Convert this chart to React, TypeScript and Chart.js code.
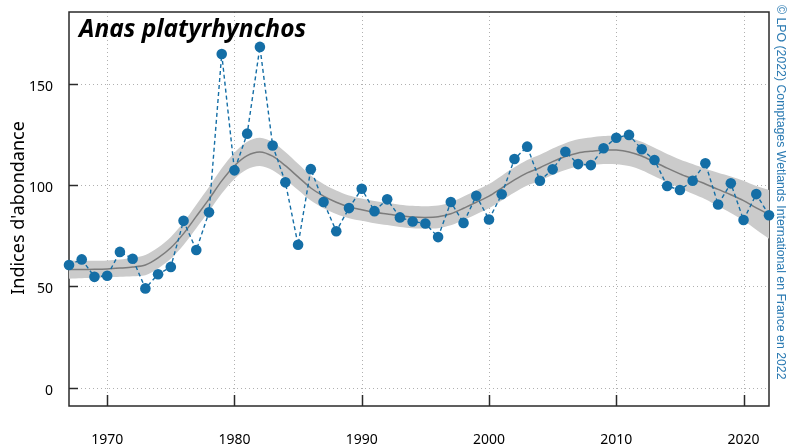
import React, { useEffect, useRef } from "react";
import { Chart, registerables } from "chart.js";
Chart.register(...registerables);

const years = [
  1967, 1968, 1969, 1970, 1971, 1972, 1973, 1974, 1975, 1976, 1977, 1978, 1979, 1980,
  1981, 1982, 1983, 1984, 1985, 1986, 1987, 1988, 1989, 1990, 1991, 1992, 1993, 1994,
  1995, 1996, 1997, 1998, 1999, 2000, 2001, 2002, 2003, 2004, 2005, 2006, 2007, 2008,
  2009, 2010, 2011, 2012, 2013, 2014, 2015, 2016, 2017, 2018, 2019, 2020, 2021, 2022,
];

const observed = [
  60.5, 63.3, 54.7, 55.2, 67.0, 63.6, 49.0, 56.0, 59.6, 82.3, 67.9, 86.5, 164.6, 107.2,
  125.3, 168.1, 119.5, 101.3, 70.5, 107.8, 91.6, 77.2, 88.6, 98.1, 87.1, 92.9, 84.0, 82.0,
  81.0, 74.3, 91.6, 81.3, 94.7, 83.0, 95.4, 112.8, 118.9, 102.1, 107.7, 116.4, 110.3, 109.8,
  118.1, 123.3, 124.7, 117.6, 112.3, 99.5, 97.5, 102.1, 110.7, 90.4, 100.8, 82.7, 95.5, 85.1,
];

const trend = [
  58.3, 58.3, 58.4, 58.6, 59.0, 59.5, 60.5, 64.0, 69.0, 76.0, 84.5, 93.0, 102.0, 109.5,
  114.5, 116.3, 114.2, 109.5, 104.0, 98.5, 94.5, 91.5, 89.2, 87.8, 86.6, 85.7, 84.8, 84.2,
  84.0, 84.3, 85.8, 88.5, 91.5, 94.5, 98.5, 102.5, 106.0, 108.5, 111.5, 114.0, 115.8, 116.6,
  117.2, 117.2, 116.3, 114.3, 111.3, 108.3, 105.5, 103.0, 100.5, 97.8, 95.2, 92.3, 88.7, 85.5,
];

const upper = [
  62.8, 62.6, 62.6, 62.8, 63.3, 64.0, 65.5, 69.2, 74.4, 81.6, 90.3, 99.0, 108.2, 116.0,
  121.3, 123.3, 121.2, 116.3, 110.5, 104.7, 100.5, 97.3, 94.8, 93.3, 92.1, 91.2, 90.3, 89.7,
  89.5, 89.9, 91.5, 94.3, 97.4, 100.5, 104.6, 108.7, 112.3, 114.9, 118.0, 120.6, 122.5, 123.4,
  124.1, 124.2, 123.3, 121.3, 118.3, 115.3, 112.6, 110.3, 108.0, 106.0, 104.2, 102.1, 99.5, 97.5,
];

const lower = [
  53.8, 54.0, 54.2, 54.4, 54.7, 55.0, 55.5, 58.8, 63.6, 70.4, 78.7, 87.0, 95.8, 103.0,
  107.7, 109.3, 107.2, 102.7, 97.5, 92.3, 88.5, 85.7, 83.6, 82.3, 81.1, 80.2, 79.3, 78.7,
  78.5, 78.7, 80.1, 82.7, 85.6, 88.5, 92.4, 96.3, 99.7, 102.1, 105.0, 107.4, 109.1, 109.8,
  110.3, 110.2, 109.3, 107.3, 104.3, 101.3, 98.4, 95.7, 93.0, 89.6, 86.2, 82.5, 77.9, 73.5,
];

const xTicks = [1970, 1980, 1990, 2000, 2010, 2020];
const yTicks = [0, 50, 100, 150];
const titleText = "Anas platyrhynchos";
const yTitleText = "Indices d'abondance";
const creditText = "© LPO (2022) Comptages Wetlands International en France en 2022";

const BLUE = "#146ea6";

const decor = {
  id: "decor",
  beforeDatasetsDraw(chart: any) {
    const { ctx, chartArea: a, scales } = chart;
    const x = scales.x;
    const y = scales.y;
    ctx.save();
    ctx.strokeStyle = "#b0b0b0";
    ctx.lineWidth = 1;
    ctx.setLineDash([1, 3]);
    xTicks.forEach((v) => {
      const px = Math.round(x.getPixelForValue(v)) + 0.5;
      ctx.beginPath();
      ctx.moveTo(px, a.top);
      ctx.lineTo(px, a.bottom);
      ctx.stroke();
    });
    yTicks.forEach((v) => {
      const py = Math.round(y.getPixelForValue(v)) + 0.5;
      ctx.beginPath();
      ctx.moveTo(a.left, py);
      ctx.lineTo(a.right, py);
      ctx.stroke();
    });
    ctx.setLineDash([]);
    ctx.strokeStyle = "#2a2a2a";
    ctx.lineWidth = 1.5;
    ctx.strokeRect(a.left, a.top, a.right - a.left, a.bottom - a.top);
    xTicks.forEach((v) => {
      const px = Math.round(x.getPixelForValue(v)) + 0.5;
      ctx.beginPath();
      ctx.moveTo(px, a.bottom);
      ctx.lineTo(px, a.bottom - 11);
      ctx.stroke();
    });
    ctx.fillStyle = "#000";
    ctx.font = "14px 'Noto Sans'";
    ctx.textAlign = "right";
    ctx.textBaseline = "middle";
    yTicks.forEach((v) => {
      const py = Math.round(y.getPixelForValue(v)) + 0.5;
      ctx.beginPath();
      ctx.moveTo(a.left, py);
      ctx.lineTo(a.left + 9, py);
      ctx.stroke();
      ctx.fillText(String(v), a.left - 16, py + 3);
    });
    ctx.restore();
  },
  afterDraw(chart: any) {
    const { ctx, chartArea: a } = chart;
    ctx.save();
    ctx.fillStyle = "#000";
    ctx.font = "italic bold 24.5px 'Open Sans'";
    ctx.textBaseline = "alphabetic";
    ctx.textAlign = "left";
    ctx.fillText(titleText, a.left + 10, 37);

    ctx.save();
    ctx.translate(19, 208);
    ctx.rotate(-Math.PI / 2);
    ctx.font = "18px 'Noto Sans'";
    ctx.textAlign = "center";
    ctx.textBaseline = "middle";
    ctx.fillStyle = "#000";
    ctx.fillText(yTitleText, 0, 0);
    ctx.restore();

    ctx.save();
    ctx.translate(780, 5);
    ctx.rotate(Math.PI / 2);
    ctx.font = "12.3px 'Liberation Sans'";
    ctx.textAlign = "left";
    ctx.textBaseline = "middle";
    ctx.fillStyle = "#2a7ab2";
    ctx.fillText(creditText, 0, 0);
    ctx.restore();
    ctx.restore();
  },
};

export default function App() {
  const ref = useRef<HTMLCanvasElement>(null);
  useEffect(() => {
    if (!ref.current) return;
    const pts = (arr: number[]) => years.map((yr, i) => ({ x: yr, y: arr[i] }));
    const chart = new Chart(ref.current, {
      type: "line",
      data: {
        datasets: [
          {
            data: pts(upper),
            borderWidth: 0,
            borderColor: "rgba(0,0,0,0)",
            backgroundColor: "#cbcbcb",
            pointRadius: 0,
            fill: "+1",
            tension: 0.3,
            order: 3,
          },
          {
            data: pts(lower),
            borderWidth: 0,
            borderColor: "rgba(0,0,0,0)",
            pointRadius: 0,
            fill: false,
            tension: 0.3,
            order: 3,
          },
          {
            data: pts(trend),
            borderWidth: 1.5,
            borderColor: "#7c7c7c",
            pointRadius: 0,
            fill: false,
            tension: 0.3,
            order: 2,
          },
          {
            data: pts(observed),
            borderWidth: 1.4,
            borderColor: BLUE,
            borderDash: [4, 3],
            backgroundColor: BLUE,
            pointBackgroundColor: BLUE,
            pointBorderColor: BLUE,
            pointRadius: 5.3,
            pointBorderWidth: 0,
            fill: false,
            tension: 0,
            clip: false,
            order: 1,
          } as any,
        ],
      },
      options: {
        animation: false,
        responsive: false,
        maintainAspectRatio: false,
        layout: { padding: { left: 0, right: 20, top: 12, bottom: 0 } },
        plugins: { legend: { display: false }, tooltip: { enabled: false } },
        scales: {
          x: {
            type: "linear",
            min: 1967,
            max: 2022,
            afterBuildTicks: (s: any) => {
              s.ticks = xTicks.map((v) => ({ value: v }));
            },
            afterFit: (s: any) => {
              s.height = 41;
            },
            grid: { display: false, drawTicks: false },
            border: { display: false },
            ticks: {
              padding: 26,
              color: "#000",
              font: { family: "'Noto Sans'", size: 14 },
              maxRotation: 0,
              autoSkip: false,
              callback: (v: any) => String(v),
            },
          },
          y: {
            type: "linear",
            min: -9,
            max: 185.3,
            afterBuildTicks: (s: any) => {
              s.ticks = yTicks.map((v) => ({ value: v }));
            },
            afterFit: (s: any) => {
              s.width = 69;
            },
            grid: { display: false, drawTicks: false },
            border: { display: false },
            ticks: { display: false },
          },
        },
      },
      plugins: [decor],
    });
    return () => chart.destroy();
  }, []);
  return (
    <div style={{ position: "fixed", left: 0, top: 0, width: 789, height: 447, background: "#fff" }}>
      <canvas ref={ref} width={789} height={447} style={{ display: "block", width: 789, height: 447 }} />
    </div>
  );
}
